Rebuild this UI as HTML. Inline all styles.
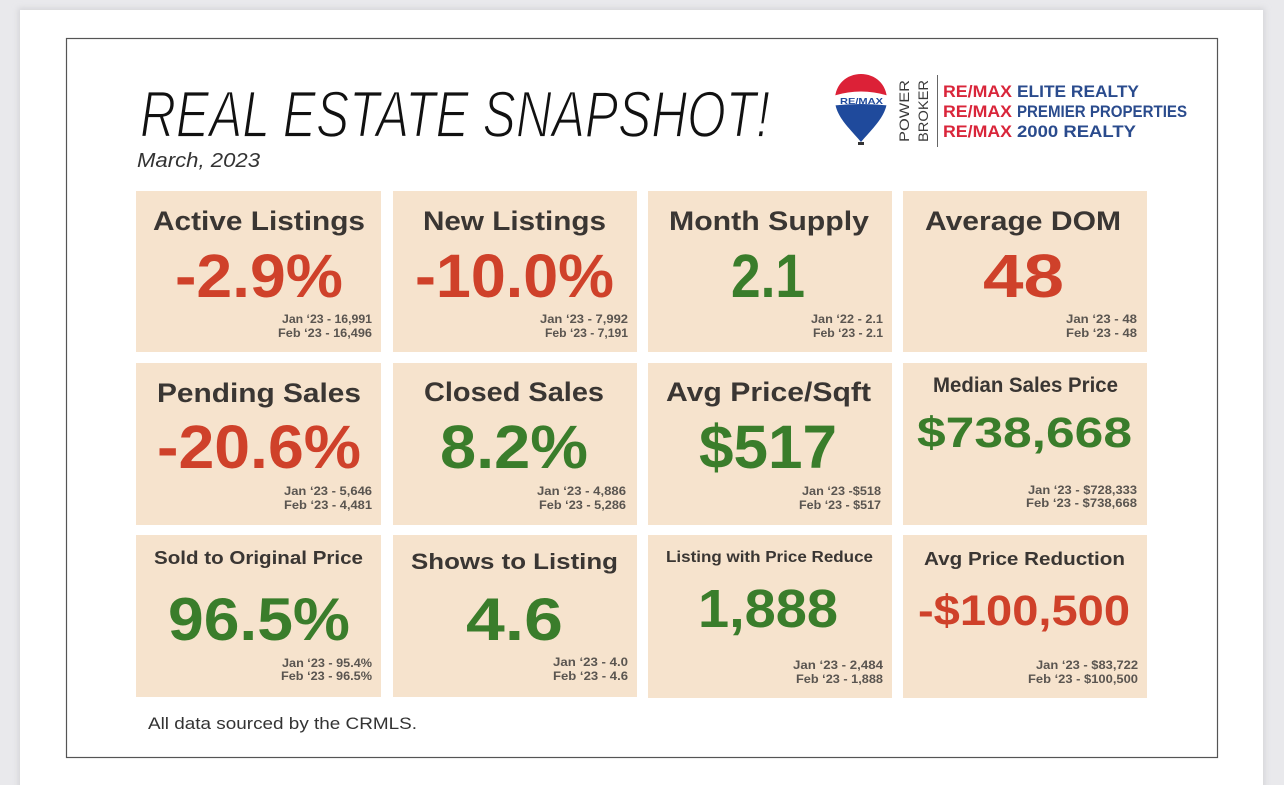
<!DOCTYPE html>
<html><head><meta charset="utf-8">
<style>
html,body{margin:0;padding:0;background:#e9e9ec;}
svg{display:block;}
text{font-family:"Liberation Sans",sans-serif;}
.t{font-weight:bold;fill:#3a3633;}
.r{font-weight:bold;fill:#cf412a;}
.g{font-weight:bold;fill:#3a7d2b;}
.s{font-weight:bold;fill:#5a5550;font-size:12px;}
</style></head>
<body>
<svg width="1284" height="785" viewBox="0 0 1284 785" xmlns="http://www.w3.org/2000/svg">
<defs>
<filter id="sh" x="-5%" y="-5%" width="110%" height="110%"><feGaussianBlur stdDeviation="3"/></filter>
<clipPath id="bal"><path d="M861 142 C851 130 835 116 835 100 C835 84 847 74 861 74 C875 74 887 84 887 100 C887 116 871 130 861 142 Z"/></clipPath>
</defs>
<rect x="0" y="0" width="1284" height="785" fill="#e9e9ec"/>
<rect x="18" y="8" width="1247" height="790" fill="#d5d5d9" filter="url(#sh)"/>
<rect x="20" y="10" width="1243" height="775" fill="#ffffff"/>
<rect x="66.5" y="38.5" width="1151" height="719" fill="none" stroke="#555" stroke-width="1.2"/>

<!-- Title -->
<text x="140" y="137" font-size="66" font-style="italic" fill="#111" stroke="#fff" stroke-width="1.8" textLength="630" lengthAdjust="spacingAndGlyphs">REAL ESTATE SNAPSHOT!</text>
<text x="137" y="167" font-size="20" font-style="italic" fill="#333" textLength="123" lengthAdjust="spacingAndGlyphs">March, 2023</text>

<!-- Logo balloon -->
<g clip-path="url(#bal)">
<rect x="830" y="70" width="62" height="80" fill="#fff"/>
<path d="M830 70 H892 V97 Q861 86 830 97 Z" fill="#dc2137"/>
<path d="M830 106 Q861 102 892 106 V150 H830 Z" fill="#1f4a9c"/>
</g>
<text x="840" y="104" font-size="8.5" font-weight="bold" fill="#1f4a9c" textLength="43" lengthAdjust="spacingAndGlyphs">RE/MAX</text>
<rect x="858" y="142" width="6" height="3" fill="#333"/>
<text transform="translate(909,142) rotate(-90)" font-size="14" fill="#3a3a3a" textLength="62" lengthAdjust="spacingAndGlyphs">POWER</text>
<text transform="translate(928,142) rotate(-90)" font-size="14" fill="#3a3a3a" textLength="62" lengthAdjust="spacingAndGlyphs">BROKER</text>
<line x1="937.5" y1="75" x2="937.5" y2="147" stroke="#666" stroke-width="1"/>
<g font-size="17" font-weight="bold">
<text x="943" y="97" fill="#d9253a" textLength="69" lengthAdjust="spacingAndGlyphs">RE/MAX</text>
<text x="1017" y="97" fill="#2a4b8d" textLength="122" lengthAdjust="spacingAndGlyphs">ELITE REALTY</text>
<text x="943" y="117" fill="#d9253a" textLength="69" lengthAdjust="spacingAndGlyphs">RE/MAX</text>
<text x="1017" y="117" fill="#2a4b8d" textLength="170" lengthAdjust="spacingAndGlyphs">PREMIER PROPERTIES</text>
<text x="943" y="137" fill="#d9253a" textLength="69" lengthAdjust="spacingAndGlyphs">RE/MAX</text>
<text x="1017" y="137" fill="#2a4b8d" textLength="119" lengthAdjust="spacingAndGlyphs">2000 REALTY</text>
</g>

<!-- Cards -->
<g fill="#f6e3cd">
<rect x="136" y="191" width="245" height="161"/>
<rect x="393" y="191" width="244" height="161"/>
<rect x="648" y="191" width="244" height="161"/>
<rect x="903" y="191" width="244" height="161"/>
<rect x="136" y="363" width="245" height="162"/>
<rect x="393" y="363" width="244" height="162"/>
<rect x="648" y="363" width="244" height="162"/>
<rect x="903" y="363" width="244" height="162"/>
<rect x="136" y="535" width="245" height="162"/>
<rect x="393" y="535" width="244" height="162"/>
<rect x="648" y="535" width="244" height="163"/>
<rect x="903" y="535" width="244" height="163"/>
</g>

<!-- Row 1 -->
<text class="t" x="153" y="230" font-size="27" textLength="212" lengthAdjust="spacingAndGlyphs">Active Listings</text>
<text class="r" x="175" y="297" font-size="61" textLength="168" lengthAdjust="spacingAndGlyphs">-2.9%</text>
<text class="s" x="282" y="323" textLength="90" lengthAdjust="spacingAndGlyphs">Jan ‘23 - 16,991</text>
<text class="s" x="278" y="337" textLength="94" lengthAdjust="spacingAndGlyphs">Feb ‘23 - 16,496</text>

<text class="t" x="423" y="230" font-size="27" textLength="183" lengthAdjust="spacingAndGlyphs">New Listings</text>
<text class="r" x="415" y="297" font-size="61" textLength="199" lengthAdjust="spacingAndGlyphs">-10.0%</text>
<text class="s" x="540" y="323" textLength="88" lengthAdjust="spacingAndGlyphs">Jan ‘23 - 7,992</text>
<text class="s" x="545" y="337" textLength="83" lengthAdjust="spacingAndGlyphs">Feb ‘23 - 7,191</text>

<text class="t" x="669" y="230" font-size="27" textLength="200" lengthAdjust="spacingAndGlyphs">Month Supply</text>
<text class="g" x="731" y="297" font-size="61" textLength="74" lengthAdjust="spacingAndGlyphs">2.1</text>
<text class="s" x="811" y="323" textLength="72" lengthAdjust="spacingAndGlyphs">Jan ‘22 - 2.1</text>
<text class="s" x="813" y="337" textLength="70" lengthAdjust="spacingAndGlyphs">Feb ‘23 - 2.1</text>

<text class="t" x="925" y="230" font-size="27" textLength="196" lengthAdjust="spacingAndGlyphs">Average DOM</text>
<text class="r" x="983" y="297" font-size="61" textLength="81" lengthAdjust="spacingAndGlyphs">48</text>
<text class="s" x="1066" y="323" textLength="71" lengthAdjust="spacingAndGlyphs">Jan ‘23 - 48</text>
<text class="s" x="1066" y="337" textLength="71" lengthAdjust="spacingAndGlyphs">Feb ‘23 - 48</text>

<!-- Row 2 -->
<text class="t" x="157" y="402" font-size="27" textLength="204" lengthAdjust="spacingAndGlyphs">Pending Sales</text>
<text class="r" x="157" y="468" font-size="61" textLength="204" lengthAdjust="spacingAndGlyphs">-20.6%</text>
<text class="s" x="284" y="495" textLength="88" lengthAdjust="spacingAndGlyphs">Jan ‘23 - 5,646</text>
<text class="s" x="284" y="509" textLength="88" lengthAdjust="spacingAndGlyphs">Feb ‘23 - 4,481</text>

<text class="t" x="424" y="401" font-size="27" textLength="180" lengthAdjust="spacingAndGlyphs">Closed Sales</text>
<text class="g" x="440" y="468" font-size="61" textLength="148" lengthAdjust="spacingAndGlyphs">8.2%</text>
<text class="s" x="537" y="495" textLength="89" lengthAdjust="spacingAndGlyphs">Jan ‘23 - 4,886</text>
<text class="s" x="539" y="509" textLength="87" lengthAdjust="spacingAndGlyphs">Feb ‘23 - 5,286</text>

<text class="t" x="666" y="401" font-size="27" textLength="205" lengthAdjust="spacingAndGlyphs">Avg Price/Sqft</text>
<text class="g" x="699" y="468" font-size="61" textLength="138" lengthAdjust="spacingAndGlyphs">$517</text>
<text class="s" x="802" y="495" textLength="79" lengthAdjust="spacingAndGlyphs">Jan ‘23 -$518</text>
<text class="s" x="799" y="509" textLength="82" lengthAdjust="spacingAndGlyphs">Feb ‘23 - $517</text>

<text class="t" x="933" y="392" font-size="21" textLength="185" lengthAdjust="spacingAndGlyphs">Median Sales Price</text>
<text class="g" x="917" y="447" font-size="43" textLength="215" lengthAdjust="spacingAndGlyphs">$738,668</text>
<text class="s" x="1028" y="494" textLength="109" lengthAdjust="spacingAndGlyphs">Jan ‘23 - $728,333</text>
<text class="s" x="1026" y="507" textLength="111" lengthAdjust="spacingAndGlyphs">Feb ‘23 - $738,668</text>

<!-- Row 3 -->
<text class="t" x="154" y="564" font-size="18.5" textLength="209" lengthAdjust="spacingAndGlyphs">Sold to Original Price</text>
<text class="g" x="168" y="640" font-size="60" textLength="182" lengthAdjust="spacingAndGlyphs">96.5%</text>
<text class="s" x="282" y="667" textLength="90" lengthAdjust="spacingAndGlyphs">Jan ‘23 - 95.4%</text>
<text class="s" x="281" y="680" textLength="91" lengthAdjust="spacingAndGlyphs">Feb ‘23 - 96.5%</text>

<text class="t" x="411" y="569" font-size="22.5" textLength="207" lengthAdjust="spacingAndGlyphs">Shows to Listing</text>
<text class="g" x="466" y="640" font-size="60" textLength="97" lengthAdjust="spacingAndGlyphs">4.6</text>
<text class="s" x="553" y="666" textLength="75" lengthAdjust="spacingAndGlyphs">Jan ‘23 - 4.0</text>
<text class="s" x="553" y="680" textLength="75" lengthAdjust="spacingAndGlyphs">Feb ‘23 - 4.6</text>

<text class="t" x="666" y="562" font-size="15.5" textLength="207" lengthAdjust="spacingAndGlyphs">Listing with Price Reduce</text>
<text class="g" x="698" y="627" font-size="54" textLength="140" lengthAdjust="spacingAndGlyphs">1,888</text>
<text class="s" x="793" y="669" textLength="90" lengthAdjust="spacingAndGlyphs">Jan ‘23 - 2,484</text>
<text class="s" x="796" y="683" textLength="87" lengthAdjust="spacingAndGlyphs">Feb ‘23 - 1,888</text>

<text class="t" x="924" y="565" font-size="18.5" textLength="201" lengthAdjust="spacingAndGlyphs">Avg Price Reduction</text>
<text class="r" x="918" y="625" font-size="43" textLength="212" lengthAdjust="spacingAndGlyphs">-$100,500</text>
<text class="s" x="1036" y="669" textLength="102" lengthAdjust="spacingAndGlyphs">Jan ‘23 - $83,722</text>
<text class="s" x="1028" y="683" textLength="110" lengthAdjust="spacingAndGlyphs">Feb ‘23 - $100,500</text>

<text x="148" y="729" font-size="17" fill="#333" textLength="269" lengthAdjust="spacingAndGlyphs">All data sourced by the CRMLS.</text>
</svg>
</body></html>
